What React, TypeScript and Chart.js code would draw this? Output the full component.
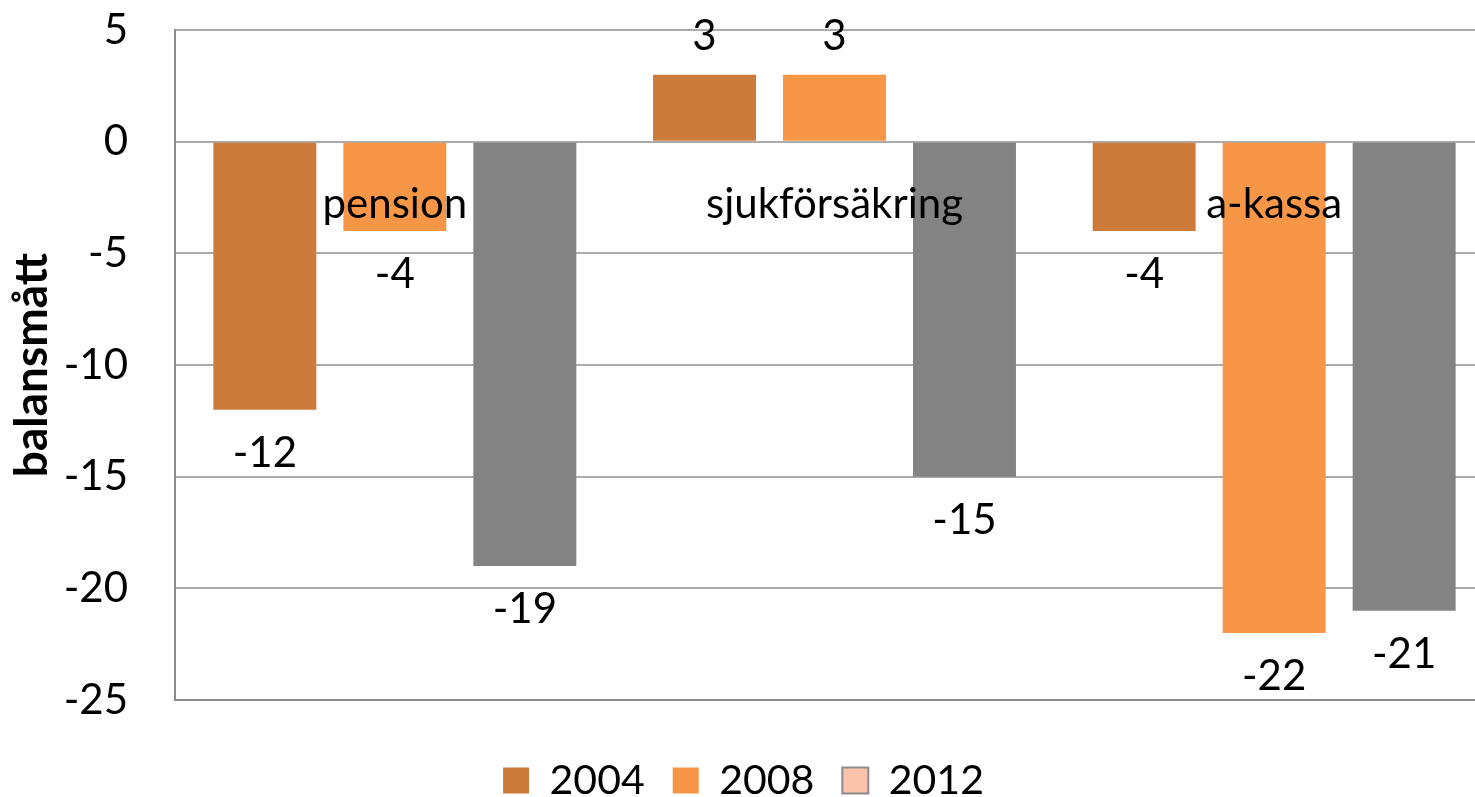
import React, { useEffect, useRef } from "react";
import { Chart, registerables } from "chart.js";

Chart.register(...registerables);

const categories = ["pension", "sjukförsäkring", "a-kassa"];
const seriesNames = ["2004", "2008", "2012"];
const values2004 = [-12, 3, -4];
const values2008 = [-4, 3, -22];
const values2012 = [-19, -15, -21];
const barColors = ["#CD7B3A", "#F79646", "#838383"];
const legendColors = ["#CD7B3A", "#F79646", "#FAC3A9"];
const yTicks = [5, 0, -5, -10, -15, -20, -25];

const FONT = "Lato";

const labelsPlugin = {
  id: "barLabels",
  afterDatasetsDraw(chart: any) {
    const ctx = chart.ctx;
    ctx.save();
    ctx.fillStyle = "#000";
    ctx.font = `42px ${FONT}`;
    ctx.textAlign = "center";
    ctx.textBaseline = "alphabetic";
    chart.data.datasets.forEach((ds: any, di: number) => {
      const meta = chart.getDatasetMeta(di);
      meta.data.forEach((el: any, i: number) => {
        const v = ds.data[i];
        const y = v < 0 ? el.y + 57 : el.y - 25;
        ctx.fillText(String(v), el.x, y);
      });
    });
    const xs = chart.scales.x;
    const ys = chart.scales.y;
    const zero = ys.getPixelForValue(0);
    chart.data.labels.forEach((lab: string, i: number) => {
      ctx.fillText(lab, xs.getPixelForValue(i), zero + 76);
    });
    ctx.restore();
  },
};

export default function App() {
  const ref = useRef<HTMLCanvasElement>(null);
  useEffect(() => {
    if (!ref.current) return;
    Chart.defaults.font.family = FONT;
    Chart.defaults.color = "#000";
    const chart = new Chart(ref.current, {
      type: "bar",
      data: {
        labels: categories,
        datasets: [values2004, values2008, values2012].map((d, i) => ({
          label: seriesNames[i],
          data: d,
          backgroundColor: barColors[i],
          borderWidth: 0,
          barPercentage: 0.792,
          categoryPercentage: 0.887,
        })),
      },
      options: {
        animation: false,
        responsive: true,
        maintainAspectRatio: false,
        layout: { padding: { top: 30, right: 23, left: 0, bottom: 0 } },
        plugins: {
          tooltip: { enabled: false },
          legend: {
            position: "bottom",
            labels: {
              boxWidth: 26,
              boxHeight: 26,
              padding: 28,
              font: { size: 41, family: FONT },
              color: "#000",
              generateLabels: (chart: any) => {
                const items = (Chart.defaults.plugins.legend.labels as any).generateLabels(chart);
                return items.map((it: any, i: number) => ({
                  ...it,
                  fillStyle: legendColors[i],
                  strokeStyle: i === 2 ? "#8C8C8C" : legendColors[i],
                  lineWidth: i === 2 ? 2 : 0,
                }));
              },
            },
          },
        },
        scales: {
          x: {
            grid: { display: false, drawTicks: false },
            ticks: { display: false },
            border: { display: true, color: "#8C8C8C", width: 2 },
            afterFit: (s: any) => {
              s.height = 32;
            },
          },
          y: {
            min: -25,
            max: 5,
            afterBuildTicks: (s: any) => {
              s.ticks = yTicks.map((v) => ({ value: v }));
            },
            grid: { color: "#ABABAB", lineWidth: 2, drawTicks: false },
            border: { display: true, color: "#8C8C8C", width: 2 },
            ticks: {
              padding: 47,
              font: { size: 42, family: FONT },
              color: "#000",
            },
            title: {
              display: true,
              text: "balansmått",
              font: { size: 46, weight: "bold", family: FONT },
              color: "#000",
              padding: { top: 12, bottom: 0 },
            },
            afterFit: (s: any) => {
              s.width = 182;
              s.paddingTop = 0;
              s.paddingBottom = 0;
            },
          },
        },
      },
      plugins: [labelsPlugin],
    });
    return () => chart.destroy();
  }, []);

  return (
    <div
      style={{
        position: "fixed",
        left: 0,
        top: 0,
        width: 1475,
        height: 797,
        overflow: "hidden",
        background: "#fff",
      }}
    >
      <div style={{ position: "absolute", left: -7, top: 0, width: 1524, height: 811 }}>
        <canvas ref={ref} />
      </div>
    </div>
  );
}
